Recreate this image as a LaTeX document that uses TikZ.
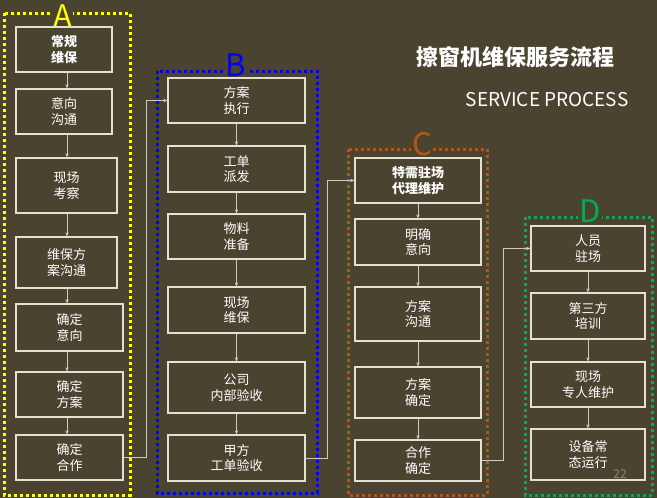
\documentclass[tikz,border=0pt]{standalone}
\usepackage{fontspec}
\usepackage{tikz}
\usetikzlibrary{arrows.meta}
\newfontfamily\cjk{Noto Sans CJK SC}
\definecolor{slidebg}{HTML}{4A4330}
\definecolor{boxline}{HTML}{E4E0D4}
\definecolor{wire}{HTML}{CFCBBF}
\definecolor{pagegray}{HTML}{8C8678}
\definecolor{grpa}{HTML}{FFFF00}
\definecolor{grpb}{HTML}{0000FF}
\definecolor{grpc}{HTML}{B8541A}
\definecolor{grpd}{HTML}{00B050}

\tikzset{
  stepbox/.style={draw=boxline, line width=1.3pt, text=white, align=center, inner sep=0pt,
    font=\cjk\fontsize{13}{15.5}\selectfont},
  keybox/.style={stepbox, font=\cjk\bfseries\fontsize{13}{15.5}\selectfont},
  grpframe/.style={line width=3pt, dash pattern=on 3pt off 3pt},
  grplabel/.style={font=\cjk\fontsize{31}{31}\selectfont, fill=slidebg, inner xsep=1pt, inner ysep=0pt,
    text height=23pt, text depth=0pt, anchor=base},
  flow/.style={draw=wire, line width=0.9pt, -{Stealth[length=4pt,width=3.5pt]}},
}

\begin{document}
\begin{tikzpicture}[x=1pt, y=-1pt]

% Slide
\useasboundingbox (0,0) rectangle (657,498);
\fill[slidebg] (0,0) rectangle (657,498);

% Title
\node[font=\cjk\bfseries\fontsize{22}{22}\selectfont, text=white] (title) at (515,57) {擦窗机维保服务流程};
\node[font=\cjk\fontsize{19}{19}\selectfont, text=white] (subtitle) at (547,100) {SERVICE PROCESS};

% Group frames
\draw[grpframe, grpa] (4,13) rectangle (130,495);
\draw[grpframe, grpb] (157,71) rectangle (317,493);
\draw[grpframe, grpc] (348,149) rectangle (487,495);
\draw[grpframe, grpd] (525,217) rectangle (652,495);

\node[grplabel, text=grpa] (labA) at (63,27) {A};
\node[grplabel, text=grpb] (labB) at (236,76) {B};
\node[grplabel, text=grpc] (labC) at (422,155) {C};
\node[grplabel, text=grpd] (labD) at (590,222) {D};

% Column A
\node[keybox, minimum width=96pt, minimum height=45pt] (a1) at (64,49.5) {常规\\维保};
\node[stepbox, minimum width=96pt, minimum height=45pt] (a2) at (64,111.5) {意向\\沟通};
\node[stepbox, minimum width=101pt, minimum height=55pt] (a3) at (66.5,185.5) {现场\\考察};
\node[stepbox, minimum width=101pt, minimum height=51pt] (a4) at (66.5,262.5) {维保方\\案沟通};
\node[stepbox, minimum width=107pt, minimum height=47pt] (a5) at (69.5,327.5) {确定\\意向};
\node[stepbox, minimum width=107pt, minimum height=45pt] (a6) at (69.5,394.5) {确定\\方案};
\node[stepbox, minimum width=107pt, minimum height=45pt] (a7) at (69.5,457.5) {确定\\合作};

% Column B
\node[stepbox, minimum width=137pt, minimum height=45pt] (b1) at (236.5,100.5) {方案\\执行};
\node[stepbox, minimum width=137pt, minimum height=46pt] (b2) at (236.5,169) {工单\\派发};
\node[stepbox, minimum width=137pt, minimum height=45pt] (b3) at (236.5,236.5) {物料\\准备};
\node[stepbox, minimum width=137pt, minimum height=46pt] (b4) at (236.5,310) {现场\\维保};
\node[stepbox, minimum width=137pt, minimum height=51pt] (b5) at (236.5,387.5) {公司\\内部验收};
\node[stepbox, minimum width=137pt, minimum height=46pt] (b6) at (236.5,458) {甲方\\工单验收};

% Column C
\node[keybox, minimum width=126pt, minimum height=45pt] (c1) at (418,180.5) {特需驻场\\代理维护};
\node[stepbox, minimum width=126pt, minimum height=46pt] (c2) at (418,242) {明确\\意向};
\node[stepbox, minimum width=126pt, minimum height=54pt] (c3) at (418,314) {方案\\沟通};
\node[stepbox, minimum width=126pt, minimum height=51pt] (c4) at (418,392.5) {方案\\确定};
\node[stepbox, minimum width=126pt, minimum height=41pt] (c5) at (418,460.5) {合作\\确定};

% Column D
\node[stepbox, minimum width=114pt, minimum height=45pt] (d1) at (588,248.5) {人员\\驻场};
\node[stepbox, minimum width=114pt, minimum height=46pt] (d2) at (588,316) {第三方\\培训};
\node[stepbox, minimum width=114pt, minimum height=45pt] (d3) at (588,384.5) {现场\\专人维护};
\node[stepbox, minimum width=114pt, minimum height=51pt] (d4) at (588,454.5) {设备常\\态运行};

\node[font=\cjk\fontsize{12}{12}\selectfont, text=pagegray] (pageno) at (620,474) {22};

% Arrows inside columns
\coordinate (acol) at (67,0);
\foreach \u/\v in {a1/a2, a2/a3, a3/a4, a4/a5, a5/a6, a6/a7}
  \draw[flow] (\u.south -| acol) -- (\v.north -| acol);
\foreach \u/\v in {b1/b2, b2/b3, b3/b4, b4/b5, b5/b6, c1/c2, c2/c3, c3/c4, c4/c5, d1/d2, d2/d3, d3/d4}
  \draw[flow] (\u.south) -- (\v.north);

% Links between columns
\draw[flow] (a7.east) -- ++(23,0) |- (b1.west);
\draw[flow] (b6.east) -- ++(22,0) |- (c1.west);
\draw[flow] (c5.east) -- ++(22,0) |- (d1.west);

\end{tikzpicture}
\end{document}
